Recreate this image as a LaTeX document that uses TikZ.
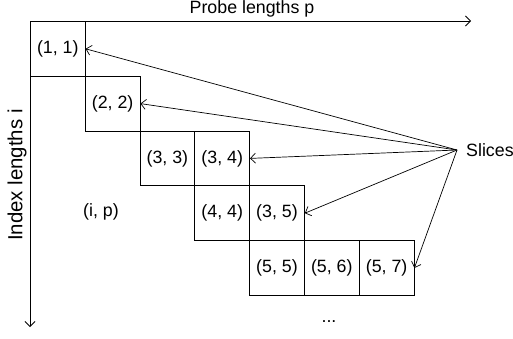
\documentclass[tikz,border=0pt]{standalone}
\usepackage{fontspec}
\setmainfont{Liberation Sans}
\usetikzlibrary{arrows.meta}
\begin{document}
\begin{tikzpicture}[x=1pt,y=-1pt,
  cell/.style={draw, minimum width=54.8pt, minimum height=54.8pt, inner sep=0pt,
    font=\fontsize{17.8}{20}\selectfont, anchor=north west, line width=0.8pt},
  lbl/.style={font=\fontsize{17.8}{20}\selectfont, inner sep=0pt},
  arr/.style={-{Straight Barb[length=5pt,width=10pt]}, line width=0.7pt},
  axarr/.style={-{Straight Barb[length=5pt,width=10pt]}, line width=0.8pt}]
\useasboundingbox (0,0) rectangle (513,338);
% cells
\node[cell] (c11) at (30,21) {(1, 1)};
\node[cell] (c22) at (84.8,75.8) {(2, 2)};
\node[cell] (c33) at (139.6,130.6) {(3, 3)};
\node[cell] (c34) at (194.4,130.6) {(3, 4)};
\node[cell] (c44) at (194.4,185.4) {(4, 4)};
\node[cell] (c35) at (249.2,185.4) {(3, 5)};
\node[cell] (c55) at (249.2,240.2) {(5, 5)};
\node[cell] (c56) at (304,240.2) {(5, 6)};
\node[cell] (c57) at (358.8,240.2) {(5, 7)};
% axes
\coordinate (o) at (30,21);
\coordinate (px) at (471,21);
\coordinate (iy) at (30,327);
\draw[axarr] (o) -- (px);
\draw[axarr] (o) -- (iy);
\node[lbl] (plab) at (252,9) {Probe lengths p};
\node[lbl, rotate=90, font=\fontsize{20.4}{22}\selectfont] (ilab) at (17,175) {Index lengths i};
\node[lbl] (ip) at (101,212) {(i, p)};
\node[lbl, anchor=base] (dots) at (329,322) {...};
% slices
\node[lbl, anchor=west] (sl) at (466,150) {Slices};
\coordinate (src) at (457,150);
\draw[arr] (src) -- (c11.east);
\draw[arr] (src) -- (c22.east);
\draw[arr] (src) -- (c34.east);
\draw[arr] (src) -- (c35.east);
\draw[arr] (src) -- (c57.east);
\end{tikzpicture}
\end{document}
